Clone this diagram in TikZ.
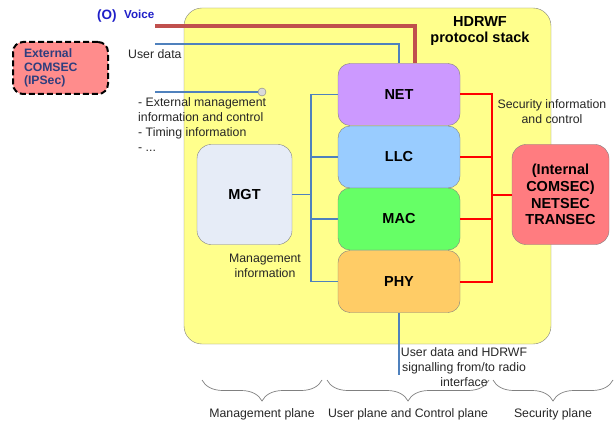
\documentclass[tikz,border=0pt]{standalone}
\usepackage{fontspec}
\setmainfont{Liberation Sans}
\usetikzlibrary{decorations.pathreplacing}

\definecolor{stackfill}{HTML}{FFFF8C}
\definecolor{netfill}{HTML}{CC99FF}
\definecolor{llcfill}{HTML}{99CCFF}
\definecolor{macfill}{HTML}{66FF66}
\definecolor{phyfill}{HTML}{FFCC66}
\definecolor{mgtfill}{HTML}{E6ECF7}
\definecolor{secfill}{HTML}{FF7C80}
\definecolor{extfill}{HTML}{FF8C8C}
\definecolor{edge}{HTML}{808080}
\definecolor{busblue}{HTML}{4F81BD}
\definecolor{voicered}{HTML}{C0504D}
\definecolor{titleblue}{HTML}{1F1FC8}
\definecolor{navy}{HTML}{2F3E7E}
\definecolor{txt}{HTML}{262626}

\tikzset{
  plain/.style={font=\fontsize{12.3}{15}\selectfont, text=txt, inner sep=0pt},
  boldlbl/.style={font=\fontsize{14.5}{16.7}\selectfont\bfseries, text=black},
  layer/.style={draw=edge, rounded corners=12pt, minimum width=122pt,
    minimum height=62pt, boldlbl},
  bluebus/.style={draw=busblue, line width=1.6pt},
  redbus/.style={draw=red, line width=2pt},
  voiceline/.style={draw=voicered, line width=3.5pt},
  planebrace/.style={draw=edge, line width=0.7pt,
    decorate, decoration={brace, mirror, amplitude=21pt}},
}

\begin{document}
\begin{tikzpicture}[x=1pt, y=-1pt]
\useasboundingbox (0,0) rectangle (615,422);

% protocol stack frame
\node[draw=edge, fill=stackfill, rounded corners=18pt, minimum width=367pt,
  minimum height=336pt] (stack) at (367.5,176) {};
\node[boldlbl, align=center] (stacktitle) at (480,31) {HDRWF\\protocol stack};

% layers
\node[layer, fill=netfill] (net) at (399,94.5) {NET};
\node[layer, fill=llcfill] (llc) at (399,157) {LLC};
\node[layer, fill=macfill] (mac) at (399,219) {MAC};
\node[layer, fill=phyfill] (phy) at (399,281.5) {PHY};

% management and security entities
\node[draw=edge, fill=mgtfill, rounded corners=14pt, minimum width=95pt,
  minimum height=100pt, boldlbl] (mgt) at (244.5,194.5) {MGT};
\node[draw=edge, fill=secfill, rounded corners=14pt, minimum width=97pt,
  minimum height=100pt, boldlbl, align=center] (sec) at (560.5,194.5)
  {(Internal\\COMSEC)\\NETSEC\\TRANSEC};
\node[draw=black, dashed, dash pattern=on 6pt off 3pt, line width=2pt,
  fill=extfill, rounded corners=10pt, minimum width=95pt, minimum height=52pt,
  text width=73pt, inner xsep=11pt, align=left, text=navy,
  font=\fontsize{12.2}{13.3}\selectfont\bfseries] (extsec) at (60.5,68)
  {External\\COMSEC\\(IPSec)};

% management bus
\coordinate (bluex) at (311,0);
\draw[bluebus] (net.west) -- (net.west -| bluex) |- (phy.west);
\draw[bluebus] (llc.west) -- (llc.west -| bluex);
\draw[bluebus] (mac.west) -- (mac.west -| bluex);
\draw[bluebus] (mgt.east) -- (mgt.east -| bluex);

% security bus
\coordinate (redx) at (492,0);
\draw[redbus] (net.east) -- (net.east -| redx) |- (phy.east);
\draw[redbus] (llc.east) -- (llc.east -| redx);
\draw[redbus] (mac.east) -- (mac.east -| redx);
\draw[redbus] (sec.west) -- (sec.west -| redx);

% inputs from the left
\coordinate (voicein) at (155,26);
\coordinate (userin) at (155,44);
\coordinate (mgmtin) at (155,92);
\draw[voiceline] (voicein) -| ([xshift=16pt]net.north);
\draw[bluebus, line width=1.2pt] (userin) -| (net.north);
\node[circle, draw=edge, fill=black!15, minimum size=8pt, inner sep=0pt]
  (mgmtend) at (262,92) {};
\draw[bluebus, line width=1.2pt] (mgmtin) -- (mgmtend.west);

% radio interface
\coordinate (radio) at (399,375);
\draw[bluebus] (phy.south) -- (radio);

% labels
\node[font=\fontsize{13.5}{15}\selectfont\bfseries, text=titleblue, anchor=base west,
  inner sep=0pt] (olbl) at (97,20) {(O)};
\node[font=\fontsize{11.6}{14}\selectfont\bfseries, text=titleblue, anchor=base west,
  inner sep=0pt] (voicelbl) at (124,19) {Voice};
\node[plain, anchor=base west] (userlbl) at (128,59) {User data};
\node[plain, anchor=base west] (ml1) at (138,107) {- External management};
\node[plain, anchor=base west] (ml2) at (138,122) {information and control};
\node[plain, anchor=base west] (ml3) at (138,137) {- Timing information};
\node[plain, anchor=base west] (ml4) at (138,152) {- ...};
\node[plain, align=center] (seclbl) at (552,112) {Security information\\and control};
\node[plain, align=center] (mgtlbl) at (265,266) {Management\\information};
\node[plain, align=center] (radiolbl) at (464,367)
  {User data and HDRWF\\signalling from/to radio\\interface};

% planes
\coordinate (b1l) at (202,380); \coordinate (b1r) at (322,380);
\coordinate (b2l) at (327,380); \coordinate (b2r) at (489,380);
\coordinate (b3l) at (493,380); \coordinate (b3r) at (613,380);
\draw[planebrace] (b1l) -- (b1r);
\draw[planebrace] (b2l) -- (b2r);
\draw[planebrace] (b3l) -- (b3r);
\node[plain, anchor=base] (p1) at (262,417) {Management plane};
\node[plain, anchor=base] (p2) at (408,417) {User plane and Control plane};
\node[plain, anchor=base] (p3) at (553,417) {Security plane};
\end{tikzpicture}
\end{document}
